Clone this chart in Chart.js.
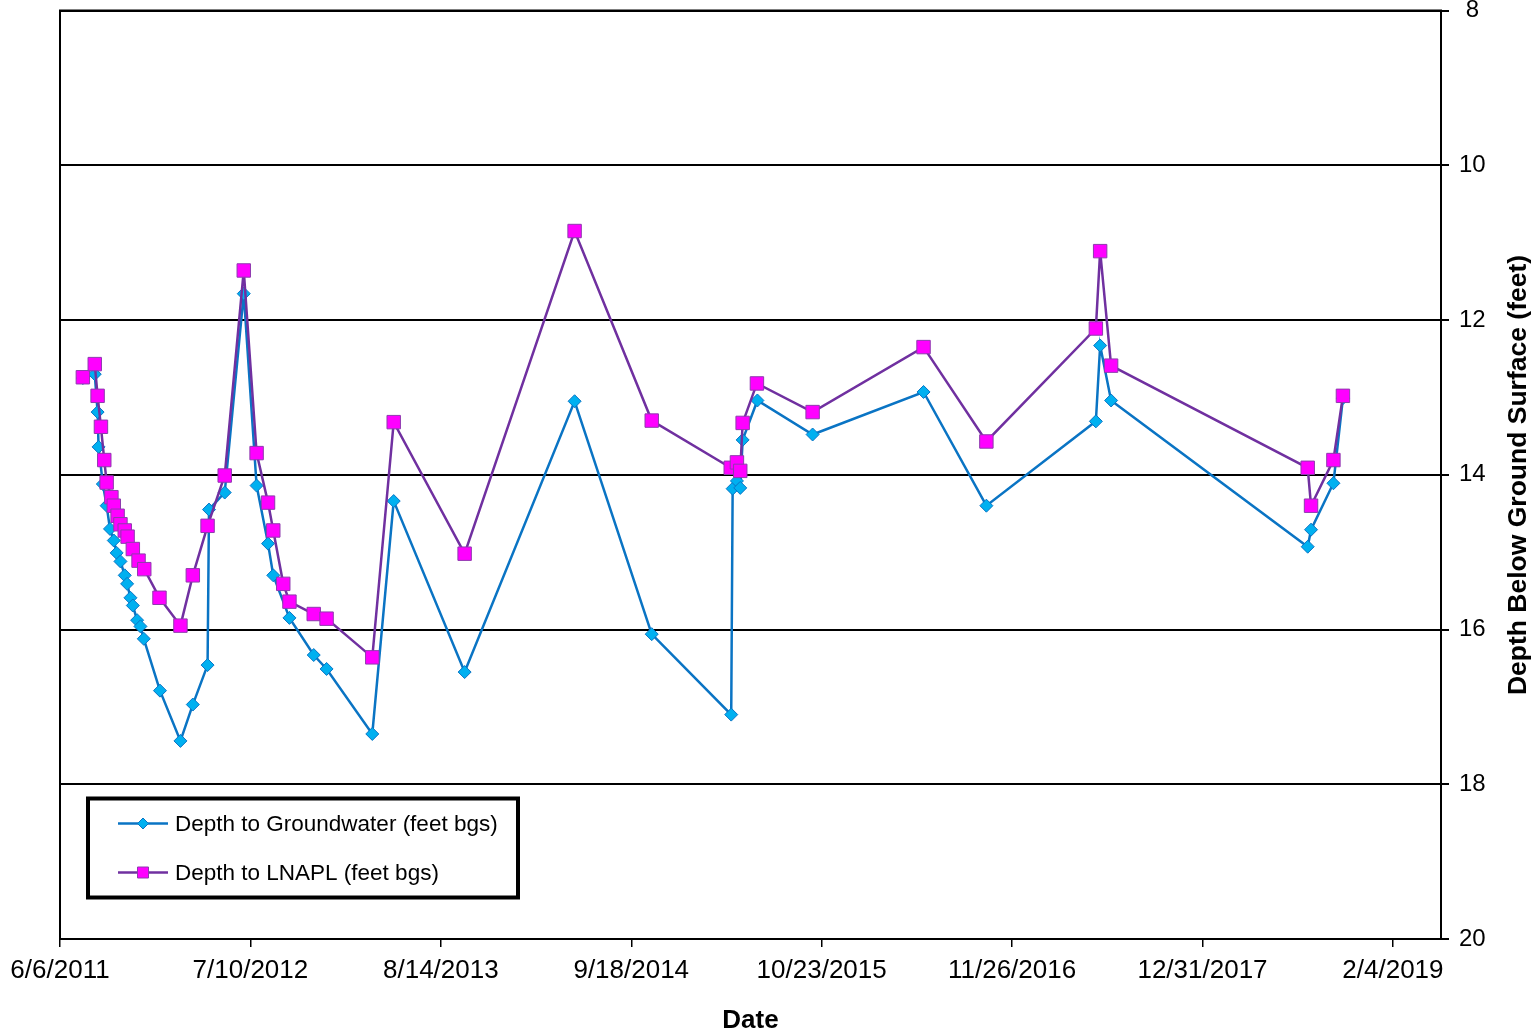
<!DOCTYPE html>
<html>
<head>
<meta charset="utf-8">
<script src="https://cdn.jsdelivr.net/npm/chart.js@4.4.1/dist/chart.umd.min.js"></script>
<style>
    html, body { margin: 0; padding: 0; background: #fff; }
</style>
</head>
<body>
<canvas id="depth-chart" width="1535" height="1036"></canvas>
<script>
// Depth to groundwater / LNAPL

const startDate = '2011-06-06';
const tickStepDays = 400;

const gwDates = [
    '2011-07-24', '2011-08-18', '2011-08-24', '2011-08-26', '2011-09-04', '2011-09-12',
    '2011-09-19', '2011-09-27', '2011-10-03', '2011-10-11', '2011-10-20', '2011-10-25',
    '2011-11-01', '2011-11-06', '2011-11-15', '2011-11-22', '2011-11-29',
    '2012-01-02', '2012-02-14', '2012-03-11', '2012-04-11', '2012-04-14', '2012-05-17',
    '2012-06-26', '2012-07-23', '2012-08-16', '2012-08-27', '2012-09-30', '2012-11-20',
    '2012-12-17', '2013-03-23', '2013-05-07', '2013-10-03', '2014-05-22', '2014-10-31',
    '2015-04-16', '2015-04-19', '2015-04-28', '2015-05-05', '2015-05-10', '2015-06-10',
    '2015-10-04', '2016-05-24', '2016-10-03', '2017-05-21', '2017-05-30', '2017-06-22',
    '2018-08-09', '2018-08-16', '2018-10-02', '2018-10-22'
];
const gwDepth = [
    12.75, 12.70, 13.19, 13.64, 14.12, 14.40,
    14.70, 14.85, 15.01, 15.12, 15.30, 15.41,
    15.59, 15.69, 15.88, 15.96, 16.12,
    16.79, 17.44, 16.97, 16.46, 14.45, 14.23,
    11.66, 14.14, 14.89, 15.30, 15.85, 16.33,
    16.51, 17.35, 14.34, 16.55, 13.05, 16.06,
    17.10, 14.18, 14.08, 14.17, 13.55, 13.04,
    13.48, 12.93, 14.40, 13.31, 12.33, 13.04,
    14.93, 14.71, 14.11, 13.01
];

const lnDates = [
    '2011-07-24', '2011-08-18', '2011-08-24', '2011-08-31', '2011-09-07', '2011-09-12',
    '2011-09-22', '2011-09-27', '2011-10-05', '2011-10-11', '2011-10-20', '2011-10-26',
    '2011-11-06', '2011-11-18', '2011-11-30',
    '2012-01-01', '2012-02-14', '2012-03-11', '2012-04-11', '2012-05-17', '2012-06-26',
    '2012-07-23', '2012-08-16', '2012-08-27', '2012-09-17', '2012-09-30', '2012-11-20',
    '2012-12-17', '2013-03-23', '2013-05-07', '2013-10-03', '2014-05-22', '2014-10-31',
    '2015-04-15', '2015-04-28', '2015-05-05', '2015-05-10', '2015-06-09', '2015-10-04',
    '2016-05-24', '2016-10-03', '2017-05-21', '2017-05-30', '2017-06-22',
    '2018-08-09', '2018-08-16', '2018-10-02', '2018-10-22'
];
const lnDepth = [
    12.74, 12.57, 12.98, 13.38, 13.81, 14.10,
    14.29, 14.40, 14.53, 14.64, 14.72, 14.80,
    14.96, 15.11, 15.22,
    15.59, 15.95, 15.30, 14.66, 14.01, 11.36,
    13.72, 14.36, 14.72, 15.41, 15.64, 15.80,
    15.86, 16.36, 13.32, 15.02, 10.85, 13.30,
    13.91, 13.84, 13.95, 13.33, 12.82, 13.19,
    12.35, 13.57, 12.11, 11.11, 12.59,
    13.91, 14.40, 13.81, 12.98
];

const yMin = 8, yMax = 20, yStep = 2;
const xMaxDays = 2901;

const FONT = "'Liberation Sans', Arial, sans-serif";
const DAY_MS = 86400000;

function toUTC(s) {
    const p = s.split('-').map(Number);
    return Date.UTC(p[0], p[1] - 1, p[2]);
}
const base = toUTC(startDate);

function daysFromStart(s) {
    return (toUTC(s) - base) / DAY_MS;
}

function dayLabel(v) {
    const d = new Date(base + v * DAY_MS);
    return (d.getUTCMonth() + 1) + '/' + d.getUTCDate() + '/' + d.getUTCFullYear();
}

const gwPoints = gwDates.map((d, i) => ({ x: daysFromStart(d), y: gwDepth[i] }));
const lnPoints = lnDates.map((d, i) => ({ x: daysFromStart(d), y: lnDepth[i] }));

// plot frame (drawn under the lines)
const plotFrame = {
    id: 'plotFrame',
    beforeDatasetsDraw(chart) {
        const { ctx, chartArea: a } = chart;
        ctx.save();
        ctx.strokeStyle = '#000';
        ctx.lineWidth = 2;
        ctx.strokeRect(a.left, a.top, a.right - a.left, a.bottom - a.top);
        ctx.restore();
    }
};

// boxed legend inside the plot, plus the rotated right-hand title
const boxLegend = {
    id: 'boxLegend',
    afterDraw(chart) {
        const { ctx, chartArea: a } = chart;
        const x = a.left + 28, y = a.top + 788, w = 430, h = 99;
        ctx.save();
        ctx.fillStyle = '#fff';
        ctx.fillRect(x, y, w, h);
        ctx.lineWidth = 4;
        ctx.strokeStyle = '#000';
        ctx.strokeRect(x, y, w, h);

        chart.data.datasets.forEach((ds, i) => {
            const ly = y + 25 + i * 49;
            const cx = x + 55;
            ctx.strokeStyle = ds.borderColor;
            ctx.lineWidth = ds.borderWidth;
            ctx.beginPath();
            ctx.moveTo(x + 30, ly);
            ctx.lineTo(x + 80, ly);
            ctx.stroke();

            ctx.fillStyle = ds.pointBackgroundColor;
            ctx.strokeStyle = ds.pointBorderColor;
            ctx.lineWidth = 1;
            ctx.beginPath();
            if (ds.pointStyle === 'rectRot') {
                const r = 5.5;
                ctx.moveTo(cx, ly - r);
                ctx.lineTo(cx + r, ly);
                ctx.lineTo(cx, ly + r);
                ctx.lineTo(cx - r, ly);
                ctx.closePath();
            } else {
                ctx.rect(cx - 5.5, ly - 5.5, 11, 11);
            }
            ctx.fill();
            ctx.stroke();

            ctx.fillStyle = '#000';
            ctx.font = '22.5px ' + FONT;
            ctx.textBaseline = 'middle';
            ctx.textAlign = 'left';
            ctx.fillText(ds.label, x + 87, ly + 1);
        });

        // right axis title reads bottom-to-top
        ctx.translate(1519, 475);
        ctx.rotate(-Math.PI / 2);
        ctx.scale(1.06, 1);
        ctx.font = 'bold 25px ' + FONT;
        ctx.textAlign = 'center';
        ctx.textBaseline = 'middle';
        ctx.fillStyle = '#000';
        ctx.fillText('Depth Below Ground Surface (feet)', 0, 0);
        ctx.restore();
    }
};

const ctx = document.getElementById('depth-chart').getContext('2d');

new Chart(ctx, {
    type: 'line',
    data: {
        datasets: [{
            label: 'Depth to Groundwater (feet bgs)',
            data: gwPoints,
            borderColor: '#0A74C4',
            borderWidth: 2.5,
            pointStyle: 'rectRot',
            pointRadius: 6.5,
            pointBackgroundColor: '#00B0F0',
            pointBorderColor: '#0A74C4',
            pointBorderWidth: 1,
            tension: 0,
            order: 2
        }, {
            label: 'Depth to LNAPL (feet bgs)',
            data: lnPoints,
            borderColor: '#7030A0',
            borderWidth: 2.5,
            pointStyle: 'rect',
            pointRadius: 9.5,
            pointBackgroundColor: '#FF00FF',
            pointBorderColor: '#8E3AAE',
            pointBorderWidth: 1,
            tension: 0,
            order: 1
        }]
    },
    options: {
        responsive: false,
        animation: false,
        layout: {
            padding: { left: 60, top: 9, right: 0, bottom: 0 }
        },
        plugins: {
            legend: { display: false },
            tooltip: { enabled: false }
        },
        scales: {
            x: {
                type: 'linear',
                position: 'bottom',
                min: 0,
                max: xMaxDays,
                afterBuildTicks: function(scale) {
                    const ticks = [];
                    for (let v = 0; v <= xMaxDays; v += tickStepDays) {
                        ticks.push({ value: v });
                    }
                    scale.ticks = ticks;
                },
                afterFit: function(scale) {
                    scale.height = 97;
                },
                ticks: {
                    autoSkip: false,
                    maxRotation: 0,
                    color: '#000',
                    padding: 8,
                    font: { family: FONT, size: 26 },
                    callback: function(value) {
                        return dayLabel(value);
                    }
                },
                grid: {
                    drawOnChartArea: false,
                    drawTicks: true,
                    tickLength: 8,
                    color: '#000',
                    lineWidth: 1.5
                },
                border: { display: false },
                title: {
                    display: true,
                    text: 'Date',
                    color: '#000',
                    font: { family: FONT, size: 26, weight: 'bold' },
                    padding: { top: 0, bottom: 0 }
                }
            },
            y: {
                type: 'linear',
                position: 'right',
                reverse: true,
                min: yMin,
                max: yMax,
                afterFit: function(scale) {
                    scale.width = 94;
                    scale.paddingTop = 0;
                    scale.paddingBottom = 0;
                },
                ticks: {
                    stepSize: yStep,
                    color: '#000',
                    padding: 10,
                    crossAlign: 'center',
                    font: { family: FONT, size: 24 }
                },
                grid: {
                    color: '#000',
                    lineWidth: 2,
                    tickLength: 8
                },
                border: { display: false }
            }
        }
    },
    plugins: [plotFrame, boxLegend]
});
</script>
</body>
</html>
